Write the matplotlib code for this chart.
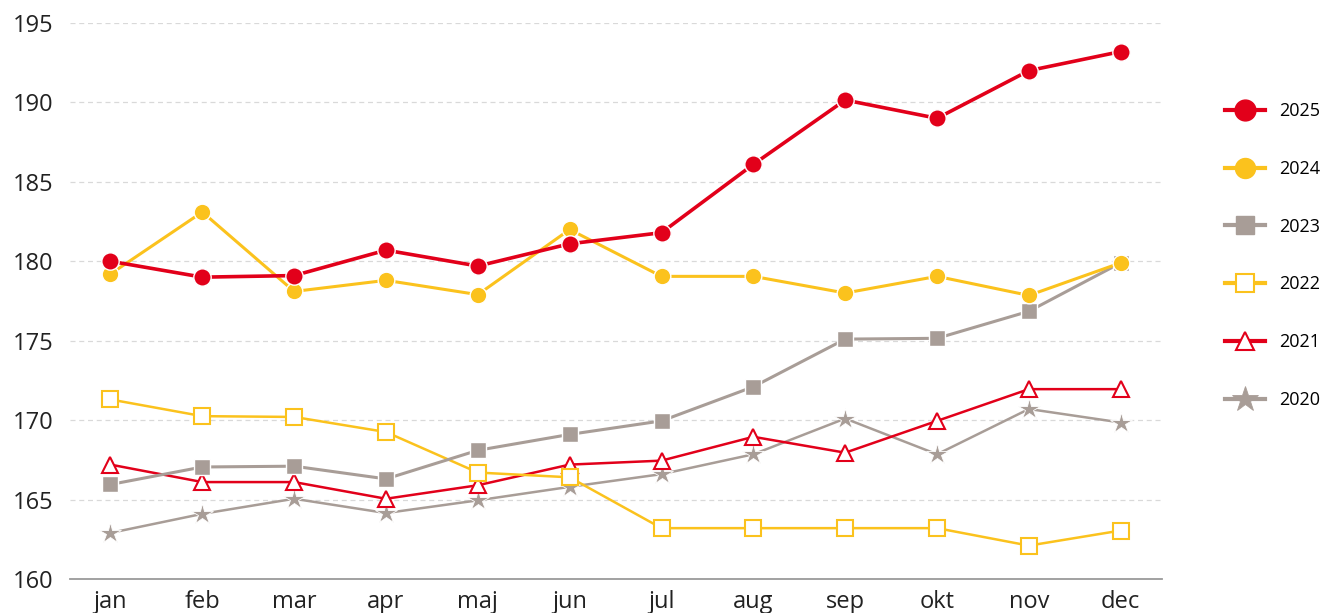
import matplotlib.pyplot as plt
import numpy as np

plt.rcParams['font.family'] = ['Open Sans', 'DejaVu Sans']

maaneder = ['jan', 'feb', 'mar', 'apr', 'maj', 'jun', 'jul', 'aug', 'sep', 'okt', 'nov', 'dec']

v2025 = [180.0, 179.0, 179.1, 180.7, 179.7, 181.1, 181.8, 186.1, 190.15, 189.0, 192.0, 193.2]
v2024 = [179.2, 183.1, 178.1, 178.8, 177.9, 182.0, 179.05, 179.05, 178.0, 179.05, 177.85, 179.9]
v2023 = [165.95, 167.05, 167.1, 166.3, 168.1, 169.1, 169.95, 172.1, 175.1, 175.15, 176.85, 179.9]
v2022 = [171.3, 170.25, 170.2, 169.25, 166.7, 166.4, 163.2, 163.2, 163.2, 163.2, 162.1, 163.05]
v2021 = [167.2, 166.1, 166.1, 165.05, 165.9, 167.2, 167.45, 168.95, 167.95, 169.95, 171.95, 171.95]
v2020 = [162.9, 164.1, 165.05, 164.15, 164.95, 165.8, 166.6, 167.85, 170.1, 167.85, 170.7, 169.85]

red = '#E2001A'
yellow = '#FBC21D'
grey = '#A89D97'

x = np.arange(len(maaneder))

fig = plt.figure(figsize=(13.27, 6.13), dpi=100)
ax = fig.add_axes([0.0528, 0.0555, 0.8229, 0.907])

# tegnes bagfra saa 2025 ligger oeverst
ax.plot(x, v2020, color=grey, lw=1.8, marker='*', ms=16, mfc=grey, mec='white', mew=0.6, label='2020', zorder=3)
ax.plot(x, v2021, color=red, lw=1.8, marker='^', ms=11, mfc='white', mec=red, mew=1.5, label='2021', zorder=4)
ax.plot(x, v2022, color=yellow, lw=1.8, marker='s', ms=11, mfc='white', mec=yellow, mew=1.5, label='2022', zorder=5)
ax.plot(x, v2023, color=grey, lw=2.2, marker='s', ms=11, mfc=grey, mec='white', mew=1.0, label='2023', zorder=6)
ax.plot(x, v2024, color=yellow, lw=2.2, marker='o', ms=12, mfc=yellow, mec='white', mew=1.0, label='2024', zorder=7)
ax.plot(x, v2025, color=red, lw=2.6, marker='o', ms=12.5, mfc=red, mec='white', mew=1.0, label='2025', zorder=8)

ax.set_xlim(-0.44, 11.45)
ax.set_ylim(160, 195)
ax.set_yticks(np.arange(160, 196, 5))
ax.set_xticks(x)
ax.set_xticklabels(maaneder)
ax.tick_params(length=0, labelsize=17, colors='#222222')
ax.tick_params(axis='x', pad=8)
ax.tick_params(axis='y', pad=12)

for s in ['top', 'right', 'left']:
    ax.spines[s].set_visible(False)
ax.spines['bottom'].set_color('#9a9a9a')
ax.spines['bottom'].set_linewidth(1.3)
for yv in range(165, 196, 5):
    ax.axhline(yv, color='#d9d9d9', lw=0.9, ls=(0, (4, 3)), zorder=1)

h, l = ax.get_legend_handles_labels()
leg = fig.legend(h[::-1], l[::-1], loc='upper left', bbox_to_anchor=(0.918, 0.845),
                 frameon=False, fontsize=13, handlelength=2.2, handletextpad=0.8,
                 labelspacing=2.2, borderaxespad=0, markerscale=1.2)
for ln in leg.get_lines():
    ln.set_linewidth(3)
    if ln.get_markerfacecolor() != 'white':
        ln.set_markeredgecolor(ln.get_color())

fig.savefig('out.png', dpi=100, facecolor='white')
